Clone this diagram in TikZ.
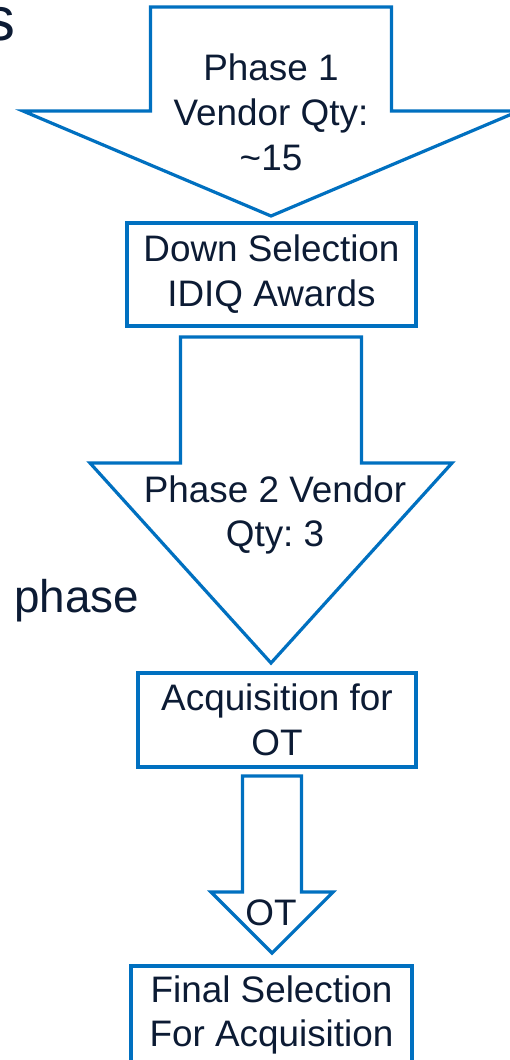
\documentclass[tikz,border=0pt]{standalone}
\usepackage{fontspec}
\setmainfont{Liberation Sans}
\frenchspacing
\usetikzlibrary{calc, positioning}
\definecolor{lineblue}{RGB}{0,112,192}
\definecolor{inknavy}{RGB}{12,27,52}
\tikzstyle{box} = [draw=lineblue, line width=3.2bp, rectangle, align=center, inner sep=0pt, text=inknavy, font=\fontsize{37}{45}\selectfont]
\tikzstyle{caption} = [align=center, inner sep=0pt, text=inknavy, font=\fontsize{37}{45}\selectfont]
\tikzstyle{side text} = [inner sep=0pt, text=inknavy, font=\fontsize{46}{55}\selectfont]
\tikzstyle{outline} = [draw=lineblue, line width=3.2bp, line join=miter]

\begin{document}
\begin{tikzpicture}[x=1bp, y=-1bp]
    \fill [white] (0,0) rectangle (510,1060);
    \useasboundingbox (0,0) rectangle (510,1060);

    % Boxes.
    \node (down) [box, minimum width=289bp, minimum height=103bp] at (271.5,274.5) {Down Selection\\IDIQ Awards};
    \node (acq) [box, minimum width=278bp, minimum height=94bp] at (277,720) {Acquisition for\\OT};
    \node (final) [box, minimum width=281bp, minimum height=98bp] at (271.5,1015) {Final Selection\\For Acquisition};

    % Block arrows: tail and tip on one axis.
    \coordinate (top 1) at (271,7);
    \coordinate (tip 1) at (271,216);
    \coordinate (top 2) at (271,337);
    \coordinate (tip 2) at (271,663);
    \coordinate (top 3) at (272,776);
    \coordinate (tip 3) at (272,953);

    \foreach \i/\s/\h/\d in {1/120.5/248/105, 2/90.5/181/200, 3/29.5/61/61} {%
        \draw [outline] ($(top \i)+(-\s,0)$) -- ($(tip \i)+(-\s,-\d)$) -- ($(tip \i)+(-\h,-\d)$)
            -- (tip \i) -- ($(tip \i)+(\h,-\d)$) -- ($(tip \i)+(\s,-\d)$) -- ($(top \i)+(\s,0)$) -- cycle;
    }

    % Texts.
    \node (phase 1) [caption] at (271,112) {Phase 1\\Vendor Qty:\\\textasciitilde15};
    \node (phase 2) [caption] at (275,515) {Phase 2 Vendor\\Qty: 3};
    \node (ot) [caption] at (271,913) {OT};
    \node (phase) [side text, anchor=base west] at (14,612) {phase};
    \node (title) [side text, font=\fontsize{62}{70}\selectfont, anchor=base east] at (16,40) {s};
\end{tikzpicture}
\end{document}
